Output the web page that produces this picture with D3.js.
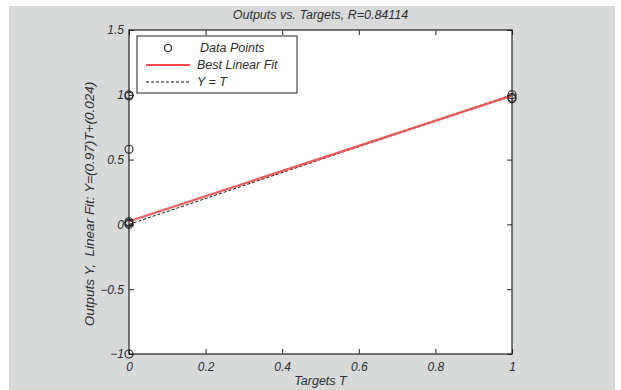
<!DOCTYPE html>
<html>
<head>
<meta charset="utf-8">
<script src="https://cdn.jsdelivr.net/npm/d3@7"></script>
<style>
  html, body { margin: 0; padding: 0; background: #ffffff; }
  svg { display: block; }
  text { font-family: "Liberation Sans", Arial, sans-serif; font-style: italic; fill: #2b2d33; }
</style>
</head>
<body>
<svg id="chart" width="621" height="390"></svg>
<script>
// Regression plot data
const targets = [0, 0, 0, 0, 0, 0, 0, 1, 1, 1];
const outputs = [1.0, 0.99, 0.58, 0.02, 0.01, 0.0, -1.0, 1.0, 0.98, 0.97];
const fitSlope = 0.97;
const fitIntercept = 0.024;
const rValue = "0.84114";
const xTicks = [0, 0.2, 0.4, 0.6, 0.8, 1];
const yTicks = [-1, -0.5, 0, 0.5, 1, 1.5];
const legendLabels = ["Data Points", "Best Linear Fit", "Y = T"];

const svg = d3.select("#chart");
const W = 621, H = 390;
const plot = { left: 129, top: 30, right: 512, bottom: 354 };

// figure background
svg.append("rect").attr("x", 9).attr("y", 6).attr("width", 606).attr("height", H - 6)
  .attr("fill", "#d8dad9");

const x = d3.scaleLinear().domain([0, 1]).range([plot.left, plot.right]);
const y = d3.scaleLinear().domain([-1, 1.5]).range([plot.bottom, plot.top]);

// axes area
svg.append("rect").attr("x", plot.left).attr("y", plot.top)
  .attr("width", plot.right - plot.left).attr("height", plot.bottom - plot.top)
  .attr("fill", "#ffffff");

const fmt = d => d3.format("")(d);
const tickLen = 5;

function styleAxis(g, hideText) {
  g.select(".domain").remove();
  g.selectAll(".tick line").attr("stroke", "#222").attr("stroke-width", 1);
  g.selectAll(".tick text").style("font-size", "12px").attr("fill", "#2b2d33");
  if (hideText) g.selectAll(".tick text").remove();
}

// bottom / top / left / right axes with inward ticks
svg.append("g").attr("transform", `translate(0,${plot.bottom})`)
  .call(d3.axisBottom(x).tickValues(xTicks).tickFormat(fmt).tickSizeInner(-tickLen).tickSizeOuter(0).tickPadding(8))
  .call(g => styleAxis(g, false));
svg.append("g").attr("transform", `translate(0,${plot.top})`)
  .call(d3.axisTop(x).tickValues(xTicks).tickSizeInner(-tickLen).tickSizeOuter(0))
  .call(g => styleAxis(g, true));
svg.append("g").attr("transform", `translate(${plot.left},0)`)
  .call(d3.axisLeft(y).tickValues(yTicks).tickFormat(fmt).tickSizeInner(-tickLen).tickSizeOuter(0).tickPadding(5))
  .call(g => styleAxis(g, false));
svg.append("g").attr("transform", `translate(${plot.right},0)`)
  .call(d3.axisRight(y).tickValues(yTicks).tickSizeInner(-tickLen).tickSizeOuter(0))
  .call(g => styleAxis(g, true));

// box
svg.append("rect").attr("x", plot.left).attr("y", plot.top)
  .attr("width", plot.right - plot.left).attr("height", plot.bottom - plot.top)
  .attr("fill", "none").attr("stroke", "#222").attr("stroke-width", 1.2);

// Y = T reference
const line = d3.line().x(d => x(d[0])).y(d => y(d[1]));
svg.append("path").datum([[0, 0], [1, 1]]).attr("d", line)
  .attr("stroke", "#111").attr("stroke-width", 1).attr("stroke-dasharray", "3,2").attr("fill", "none");

// best linear fit
svg.append("path").datum([[0, fitIntercept], [1, fitSlope + fitIntercept]]).attr("d", line)
  .attr("stroke", "#f04848").attr("stroke-width", 2.2).attr("fill", "none").attr("opacity", 0.9);

// data points
svg.append("g").selectAll("circle").data(targets.map((t, i) => [t, outputs[i]]))
  .join("circle")
  .attr("cx", d => x(d[0])).attr("cy", d => y(d[1])).attr("r", 4)
  .attr("fill", "none").attr("stroke", "#222").attr("stroke-width", 1.1);

// legend
const lg = svg.append("g");
lg.append("rect").attr("x", 137).attr("y", 36).attr("width", 160).attr("height", 57)
  .attr("fill", "#fff").attr("stroke", "#222").attr("stroke-width", 1);
lg.append("circle").attr("cx", 168).attr("cy", 48).attr("r", 3.5)
  .attr("fill", "none").attr("stroke", "#222").attr("stroke-width", 1.1);
lg.append("line").attr("x1", 146).attr("x2", 190).attr("y1", 65).attr("y2", 65)
  .attr("stroke", "#f04848").attr("stroke-width", 2.2);
lg.append("line").attr("x1", 146).attr("x2", 190).attr("y1", 82).attr("y2", 82)
  .attr("stroke", "#111").attr("stroke-width", 1).attr("stroke-dasharray", "3,2");
lg.selectAll("text.lab").data(legendLabels).join("text").attr("class", "lab")
  .attr("x", (d, i) => i === 0 ? 200 : 197).attr("y", (d, i) => 48 + i * 17)
  .attr("dy", "0.35em").style("font-size", "12.5px").text(d => d);

// title and axis labels
svg.append("text").attr("x", (plot.left + plot.right) / 2).attr("y", 19)
  .attr("text-anchor", "middle").style("font-size", "12.5px")
  .text(`Outputs vs. Targets, R=${rValue}`);
svg.append("text").attr("x", (plot.left + plot.right) / 2).attr("y", 385)
  .attr("text-anchor", "middle").style("font-size", "12.5px").text("Targets T");
svg.append("text")
  .attr("transform", `translate(94,204) rotate(-90)`)
  .attr("text-anchor", "middle").style("font-size", "13.5px").style("white-space", "pre")
  .text(`Outputs Y,  Linear Fit: Y=(${fitSlope})T+(${fitIntercept})`);
</script>
</body>
</html>
